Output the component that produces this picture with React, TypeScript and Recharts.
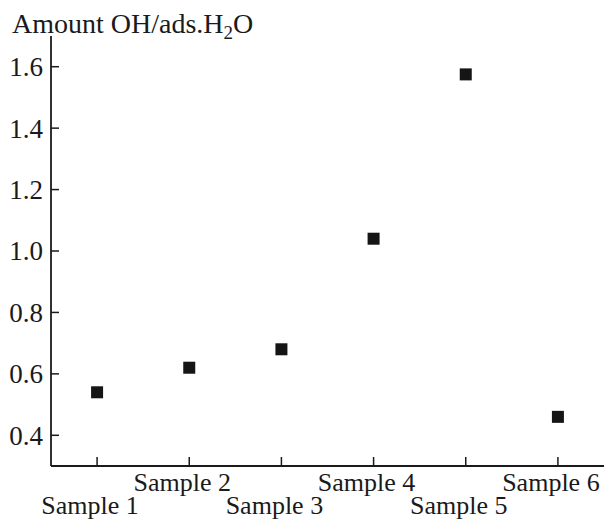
import { ComposedChart, Scatter, XAxis, YAxis } from 'recharts'

const samples = ['Sample 1', 'Sample 2', 'Sample 3', 'Sample 4', 'Sample 5', 'Sample 6']
const amounts = [0.54, 0.62, 0.68, 1.04, 1.575, 0.46]
const yTicks = [0.4, 0.6, 0.8, 1.0, 1.2, 1.4, 1.6]

const data = samples.map((name, i) => ({ name, amount: amounts[i] }))

const FONT = '"Liberation Serif", "DejaVu Serif", serif'
const INK = '#1a1a1a'
const FS = 26

const YTick = ({ x, y, payload }: any) => (
  <g>
    <line x1={x + 8} x2={x + 16} y1={y} y2={y} stroke={INK} strokeWidth={1.5} />
    <text x={x} y={y} dy="0.35em" textAnchor="end" fontFamily={FONT} fontSize={27} fill={INK}>
      {Number(payload.value).toFixed(1)}
    </text>
  </g>
)

const XTick = ({ x, y, payload, index }: any) => {
  const i = index ?? payload.index ?? 0
  // odd samples sit on the lower row, even ones on the upper row
  const dy = i % 2 === 0 ? 48 : 25
  return (
    <g>
      <line x1={x} x2={x} y1={y} y2={y - 9} stroke={INK} strokeWidth={1.5} />
      <text x={x - 7} y={y + dy} textAnchor="middle" fontFamily={FONT} fontSize={FS} fill={INK}>
        {payload.value}
      </text>
    </g>
  )
}

const Title = () => (
  <text x={12} y={33} fontFamily={FONT} fontSize={28} fill={INK}>
    Amount OH/ads.H
    <tspan fontSize={19} dy={6}>2</tspan>
    <tspan dy={-6}>O</tspan>
  </text>
)

export default function App() {
  return (
    <div style={{ position: 'absolute', left: 0, top: 0, background: '#fff' }}>
      <ComposedChart width={605} height={521} data={data} margin={{ top: 36, right: 1, bottom: 0, left: 0 }}>
        <XAxis
          dataKey="name"
          scale="band"
          height={55}
          interval={0}
          tickSize={0}
          tickMargin={0}
          tickLine={false}
          axisLine={{ stroke: INK, strokeWidth: 1.8 }}
          tick={<XTick />}
        />
        <YAxis
          type="number"
          domain={[0.3, 1.7]}
          ticks={yTicks}
          allowDataOverflow
          width={51}
          tickSize={0}
          tickMargin={8}
          tickLine={false}
          axisLine={{ stroke: INK, strokeWidth: 1.8 }}
          tick={<YTick />}
          label={{ content: () => <Title /> }}
        />
        <Scatter
          dataKey="amount"
          isAnimationActive={false}
          shape={(p: any) => <rect x={p.cx - 6} y={p.cy - 6} width={12} height={12} fill="#151515" />}
        />
      </ComposedChart>
    </div>
  )
}
